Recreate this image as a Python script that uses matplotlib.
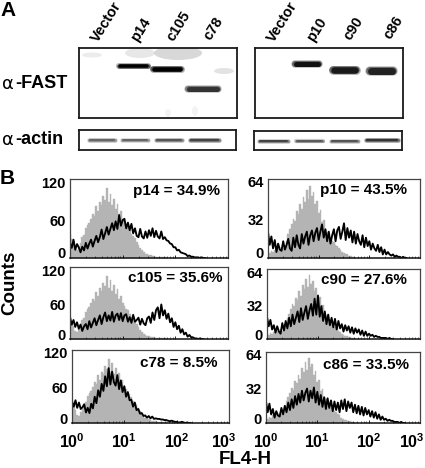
import numpy as np
import matplotlib
matplotlib.use("Agg")
import matplotlib.pyplot as plt
from matplotlib.patches import Ellipse
from matplotlib.transforms import ScaledTranslation

plt.rcParams['font.family'] = ['Liberation Sans', 'DejaVu Sans']
plt.rcParams['font.weight'] = 'bold'
plt.rcParams['mathtext.fontset'] = 'custom'
plt.rcParams['mathtext.bf'] = 'Liberation Sans:bold'
plt.rcParams['mathtext.default'] = 'bf'

W, H = 425, 468

# channel counts, 30 channels per decade starting at 10^0
gray_left = [38, 30, 22, 14, 12, 18, 24, 33, 36, 47, 52, 55, 62, 70, 66, 82, 74, 88, 84, 98, 92, 110, 88, 102, 84, 94,
             78, 86, 70, 74, 62, 58, 52, 50, 44, 38, 35, 31, 26, 20, 16, 12, 9, 7, 6, 5, 4, 3, 3, 2, 2, 1, 1, 1, 1, 0]
gray_right = [5, 4, 6, 5, 7, 6, 8, 7, 9, 8, 10, 14, 20, 24, 28, 33, 31, 39, 37, 45, 41, 51, 47, 57, 49, 60, 52, 55, 45,
              48, 38, 40, 30, 32, 24, 22, 18, 16, 14, 13, 11, 10, 8, 7, 5, 4, 3, 3, 2, 2, 1, 1, 0]

p14 = [24, 16, 29, 13, 22, 17, 9, 18, 12, 24, 15, 23, 29, 18, 27, 35, 25, 33, 45, 30, 39, 49, 37, 46, 55, 44, 58, 46,
       68, 51, 60, 62, 47, 56, 44, 54, 39, 47, 35, 33, 46, 34, 31, 42, 32, 44, 35, 47, 33, 43, 34, 31, 42, 30, 33, 28,
       27, 23, 22, 17, 17, 12, 13, 9, 8, 7, 6, 3, 4, 2, 2, 1, 1, 1, 0, 1, 0, 0]
c105 = [38, 25, 33, 21, 29, 18, 25, 14, 22, 26, 17, 31, 20, 28, 36, 24, 33, 41, 26, 38, 46, 31, 41, 32, 47, 30, 41, 44,
        33, 45, 31, 41, 43, 30, 38, 28, 42, 30, 33, 37, 25, 35, 27, 24, 36, 39, 28, 46, 33, 50, 55, 36, 60, 41, 50, 35,
        44, 29, 36, 21, 29, 17, 23, 11, 17, 8, 11, 4, 7, 3, 3, 1, 1, 0, 1, 0, 0]
c78 = [37, 28, 39, 26, 35, 24, 27, 32, 18, 26, 17, 33, 25, 45, 34, 56, 45, 67, 55, 80, 63, 94, 66, 88, 70, 64, 82, 58,
       73, 53, 63, 45, 53, 39, 40, 28, 35, 22, 24, 16, 17, 12, 13, 9, 12, 8, 11, 7, 8, 7, 7, 6, 6, 5, 5, 4, 3, 4, 3, 2,
       2, 1, 1, 2, 1, 0, 1, 0, 0]
p10 = [22, 11, 18, 8, 15, 5, 12, 7, 6, 14, 7, 11, 16, 8, 6, 17, 9, 19, 11, 8, 20, 12, 18, 22, 11, 19, 23, 14, 21, 25,
       15, 22, 28, 17, 24, 14, 22, 12, 19, 24, 14, 23, 26, 16, 22, 29, 15, 25, 17, 23, 13, 22, 12, 20, 14, 11, 19, 9,
       17, 10, 14, 7, 12, 8, 6, 11, 5, 9, 3, 7, 3, 5, 3, 2, 3, 1, 2, 1, 1, 0, 1, 0, 0]
c90 = [21, 12, 18, 9, 13, 6, 12, 7, 5, 15, 8, 17, 10, 20, 12, 23, 14, 20, 26, 16, 29, 18, 25, 31, 19, 27, 33, 22, 38,
       23, 41, 21, 31, 17, 26, 14, 23, 13, 20, 11, 19, 9, 17, 10, 14, 7, 13, 8, 12, 6, 11, 5, 10, 6, 9, 4, 8, 3, 7, 3,
       5, 3, 4, 2, 3, 2, 2, 1, 1, 1, 1, 0, 1, 0, 0]
c86 = [20, 10, 18, 8, 13, 5, 11, 7, 6, 14, 8, 16, 10, 19, 12, 22, 14, 25, 17, 27, 19, 30, 21, 28, 32, 20, 30, 23, 33,
       19, 29, 17, 26, 15, 24, 13, 23, 14, 21, 11, 20, 12, 19, 10, 21, 13, 22, 11, 20, 14, 19, 10, 17, 9, 16, 8, 15, 7,
       14, 8, 12, 6, 11, 5, 10, 4, 8, 3, 6, 3, 4, 2, 3, 2, 2, 1, 1, 1, 0, 1, 0, 0]

left_labels = ['p14 = 34.9%', 'c105 = 35.6%', 'c78 = 8.5%']
right_labels = ['p10 = 43.5%', 'c90 = 27.6%', 'c86 = 33.5%']

fig = plt.figure(figsize=(W / 100, H / 100), dpi=100)


def px_axes(x0, y0, x1, y1):
    return fig.add_axes([x0 / W, 1 - y1 / H, (x1 - x0) / W, (y1 - y0) / H])


def px_text(x, y, s, **kw):
    kw.setdefault('va', 'center')
    return fig.text(x / W, 1 - y / H, s, **kw)


def blot(box, bands, smudges=()):
    ax = px_axes(*box)
    ax.set_xlim(box[0], box[2])
    ax.set_ylim(box[3], box[1])
    ax.set_xticks([])
    ax.set_yticks([])
    for s in ax.spines.values():
        s.set_linewidth(1.3)
        s.set_color('#1a1a1a')
    for sx, sy, sw, sh, sc in smudges:
        ax.add_patch(Ellipse((sx, sy), sw, sh, color=sc, lw=0, alpha=0.7))
    for x0, x1, y, th, col in bands:
        ax.plot([x0, x1], [y, y], color=col, lw=(th + 2.5) * 0.72, alpha=0.3, solid_capstyle='round')
        ax.plot([x0, x1], [y, y], color=col, lw=(th + 1) * 0.72, alpha=0.5, solid_capstyle='round')
        ax.plot([x0 + 1, x1 - 1], [y, y], color=col, lw=th * 0.72, solid_capstyle='round')


blot((79, 48, 237, 118),
     [(119, 148, 66, 3.5, 'black'), (153, 181, 69, 4.5, 'black'), (188, 218, 88.5, 5, '#333333')],
     [(140, 53, 30, 10, '#dddddd'), (178, 53, 48, 14, '#c8c8c8'), (92, 55, 20, 5, '#e4e4e4'),
      (224, 71, 20, 6, '#d8d8d8'), (168, 113, 6, 8, '#eeeeee'), (195, 111, 6, 10, '#eeeeee')])
blot((255, 48, 403, 118),
     [(295, 319, 64, 5, '#111111'), (333, 356, 70, 6.5, '#1a1a1a'), (370, 393, 71, 7, '#222222')])
blot((79, 130, 236, 150),
     [(89, 115, 139.5, 2.2, '#666666'), (122, 148, 139.5, 2, '#666666'),
      (156, 182, 140, 2.2, '#555555'), (190, 219, 139.5, 2.4, '#444444')])
blot((254, 131, 402, 150),
     [(259, 288, 140.5, 2, '#444444'), (296, 323, 141, 1.8, '#555555'),
      (331, 358, 140.5, 2, '#555555'), (366, 398, 140, 2.4, '#333333')])

for x, y, s in [(95, 41, 'Vector'), (134, 40, 'p14'), (170, 40, 'c105'), (207, 39, 'c78'),
                (271, 41, 'Vector'), (310, 40, 'p10'), (347, 39, 'c90'), (387, 38, 'c86')]:
    px_text(x, y, s, rotation=58, ha='left', va='center', fontsize=10.5, rotation_mode='anchor')

px_text(0, 10, 'A', fontsize=15, ha='left')
px_text(0, 179, 'B', fontsize=15, ha='left')
px_text(2, 84, '\u03b1', fontsize=13, ha='left', fontweight='normal', family=['DejaVu Sans'])
px_text(15, 84, '-FAST', fontsize=13, ha='left')
px_text(2, 140, '\u03b1', fontsize=13, ha='left', fontweight='normal', family=['DejaVu Sans'])
px_text(15, 140, '-actin', fontsize=13, ha='left')
px_text(10, 283, 'Counts', rotation=90, ha='center', fontsize=13.5)
px_text(245, 460, 'FL4-H', ha='center', fontsize=13.5)


def channels(vals):
    return 10 ** (np.arange(len(vals)) / 30)


def shift(label, dx, dy):
    label.set_transform(label.get_transform() + ScaledTranslation(dx / 100, dy / 100, fig.dpi_scale_trans))


def hist_panel(box, gray, black, ymax, ticks, label, label_xy, show_x, last_dx=0, top_dy=0):
    ax = px_axes(*box)
    ax.fill_between(channels(gray), gray, 0, step='mid', color='#b4b4b4', lw=0.3)
    ax.plot(channels(black), black, color='black', lw=1.35)
    ax.set_xscale('log')
    ax.set_xlim(1, 1000)
    ax.set_ylim(0, ymax)
    ax.set_yticks(ticks, [str(t) for t in ticks], fontsize=10.5)
    ax.tick_params(axis='y', length=0, pad=3)
    ax.tick_params(axis='x', which='major', direction='in', length=2.5, width=0.6)
    ax.tick_params(axis='x', which='minor', direction='in', length=1.2, width=0.4)
    # tick_params resets label transforms, so the nudges come after it
    shift(ax.get_yticklabels()[0], 0, 5)
    shift(ax.get_yticklabels()[-1], 0, top_dy)
    if show_x:
        ax.set_xticks([1, 10, 100, 1000], ['$10^{0}$', '$10^{1}$', '$10^{2}$', '$10^{3}$'], fontsize=11.5)
        ax.tick_params(axis='x', which='major', pad=7)
        shift(ax.get_xticklabels()[-1], last_dx, 0)
    else:
        ax.set_xticklabels([])
    for s in ax.spines.values():
        s.set_linewidth(0.9)
        s.set_color('#444444')
    ax.spines['bottom'].set_color('#111111')
    ax.spines['bottom'].set_linewidth(1.1)
    px_text(label_xy[0], label_xy[1], label, fontsize=11, ha='left')


hist_panel((70, 179, 228, 258), gray_left, p14, 125, [0, 60, 120], left_labels[0], (133, 191), False)
hist_panel((70, 267, 228, 339), gray_left, c105, 125, [0, 60, 120], left_labels[1], (128, 278), False, top_dy=-1)
hist_panel((72, 350, 229, 423), gray_left, c78, 125, [0, 60, 120], left_labels[2], (140, 363), True, -5)
hist_panel((268, 179, 420, 258), gray_right, p10, 66, [0, 32, 64], right_labels[0], (320, 190), False)
hist_panel((267, 269, 420, 339), gray_right, c90, 66, [0, 32, 64], right_labels[1], (321, 280), False, top_dy=-1)
hist_panel((266, 352, 420, 423), gray_right, c86, 66, [0, 32, 64], right_labels[2], (323, 365), True, -8)

fig.savefig('out.png', dpi=100)
